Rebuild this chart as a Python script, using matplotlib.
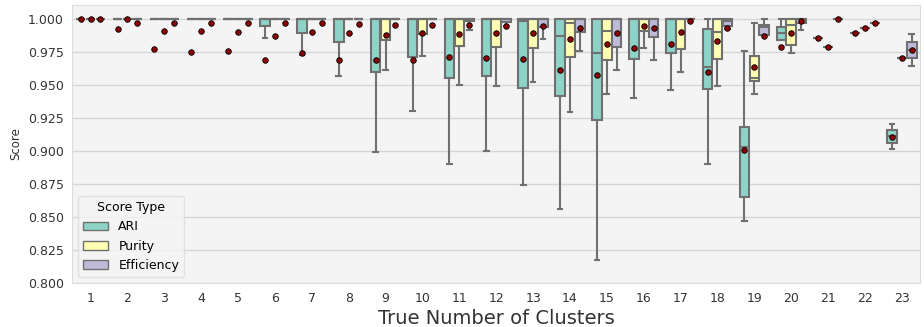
import matplotlib
matplotlib.use("Agg")
import matplotlib.pyplot as plt
from matplotlib.patches import Patch

clusters = list(range(1, 24))
score_types = ["ARI", "Purity", "Efficiency"]

# box statistics (one value per true number of clusters)
ari_q3 = [1, 1, 1, 1, 1, 1, 1, 1, 1, 1, 1, 1, 1, 1, 1, 1, 1, 0.9924, 0.9184, 0.9937, 0.9853, 0.9894, 0.916]
ari_med = [1, 1, 1, 1, 1, 1, 1, 1, 1, 1, 1, 1, 0.998, 0.987, 0.974, 1, 1, 0.9639, 0.9033, 0.9896, 0.9853, 0.9894, 0.911]
ari_q1 = [1, 1, 1, 1, 1, 0.9944, 0.9894, 0.9823, 0.960, 0.9712, 0.9553, 0.9565, 0.9477, 0.9414, 0.9237, 0.9697, 0.9745, 0.947, 0.865, 0.9843, 0.9853, 0.9894, 0.9058]
ari_lo = [1, 1, 1, 1, 1, 0.9856, 0.9727, 0.9565, 0.899, 0.930, 0.890, 0.900, 0.874, 0.856, 0.8177, 0.940, 0.946, 0.890, 0.847, 0.9843, 0.9853, 0.9894, 0.9012]
ari_hi = [1, 1, 1, 1, 1, 1, 1, 1, 1, 1, 1, 1, 1, 1, 1, 1, 1, 1, 0.9755, 1, 0.9853, 0.9894, 0.9205]
ari_mean = [1, 0.9924, 0.977, 0.975, 0.9757, 0.969, 0.9745, 0.969, 0.969, 0.969, 0.9712, 0.9707, 0.9697, 0.9616, 0.9573, 0.978, 0.9808, 0.960, 0.9007, 0.9785, 0.9853, 0.9894, 0.9108]

pur_q3 = [1, 1, 1, 1, 1, 1, 1, 1, 1, 1, 1, 1, 1, 1, 1, 1, 1, 1, 0.9717, 1, 0.979, 0.9934, 0.9705]
pur_med = [1, 1, 1, 1, 1, 1, 1, 1, 1, 1, 1, 1, 1, 0.9967, 0.9911, 1, 1, 0.990, 0.9553, 0.995, 0.979, 0.9934, 0.9705]
pur_q1 = [1, 1, 1, 1, 1, 1, 1, 1, 0.984, 0.9889, 0.9795, 0.979, 0.9777, 0.9712, 0.9692, 0.991, 0.9772, 0.970, 0.9533, 0.980, 0.979, 0.9934, 0.9705]
pur_lo = [1, 1, 1, 1, 1, 1, 1, 1, 0.961, 0.972, 0.950, 0.9492, 0.9525, 0.9298, 0.9434, 0.9777, 0.960, 0.949, 0.943, 0.974, 0.979, 0.9934, 0.9705]
pur_hi = [1, 1, 1, 1, 1, 1, 1, 1, 1, 1, 1, 1, 1, 1, 1, 1, 1, 1, 0.9972, 1, 0.979, 0.9934, 0.9705]
pur_mean = [1, 1, 0.991, 0.991, 0.990, 0.987, 0.990, 0.9894, 0.9876, 0.989, 0.9884, 0.9894, 0.989, 0.9848, 0.981, 0.9944, 0.990, 0.983, 0.9633, 0.9896, 0.979, 0.9934, 0.9705]

eff_q3 = [1, 1, 1, 1, 1, 1, 1, 1, 1, 1, 1, 1, 1, 1, 1, 1, 1, 1, 0.9957, 1, 1, 0.9972, 0.9828]
eff_med = [1, 1, 1, 1, 1, 1, 1, 1, 1, 1, 1, 1, 1, 1, 1, 1, 1, 0.998, 0.9937, 1, 1, 0.9972, 0.9765]
eff_q1 = [1, 1, 1, 1, 1, 1, 1, 1, 1, 1, 0.998, 0.9975, 0.9937, 0.9904, 0.9786, 0.986, 1, 0.9945, 0.9876, 0.9967, 1, 0.9972, 0.9705]
eff_lo = [1, 1, 1, 1, 1, 1, 1, 1, 1, 1, 0.9917, 0.9944, 0.9848, 0.976, 0.961, 0.969, 1, 0.9925, 0.9876, 0.9917, 1, 0.9972, 0.9641]
eff_hi = [1, 1, 1, 1, 1, 1, 1, 1, 1, 1, 1, 1, 1, 1, 1, 1, 1, 1, 1, 1, 1, 0.9972, 0.9889]
eff_mean = [1, 0.9967, 0.9965, 0.9965, 0.9965, 0.9965, 0.9965, 0.996, 0.995, 0.9955, 0.995, 0.9944, 0.9944, 0.9927, 0.9892, 0.993, 0.998, 0.9934, 0.9868, 0.998, 1.0, 0.9972, 0.9765]

stats_by_type = {
    "ARI": (ari_q1, ari_med, ari_q3, ari_lo, ari_hi, ari_mean),
    "Purity": (pur_q1, pur_med, pur_q3, pur_lo, pur_hi, pur_mean),
    "Efficiency": (eff_q1, eff_med, eff_q3, eff_lo, eff_hi, eff_mean),
}
colors = {"ARI": "#8dd3c7", "Purity": "#ffffb3", "Efficiency": "#bebada"}
edge = "#707070"

fig = plt.figure(figsize=(9.24, 3.27), dpi=100)
ax = fig.add_axes([0.078, 0.134, 0.918, 0.852])
ax.set_facecolor("#f4f4f4")
ax.grid(axis="y", color="#d6d6d6", linewidth=1)
ax.set_axisbelow(True)

offsets = [-0.267, 0, 0.267]
for k, name in enumerate(score_types):
    q1, med, q3, lo, hi, mean = stats_by_type[name]
    boxes = []
    for i in range(len(clusters)):
        boxes.append({"q1": q1[i], "med": med[i], "q3": q3[i],
                      "whislo": lo[i], "whishi": hi[i], "fliers": []})
    pos = [i + offsets[k] for i in range(len(clusters))]
    ax.bxp(boxes, positions=pos, widths=0.26, patch_artist=True, showfliers=False,
           boxprops=dict(facecolor=colors[name], edgecolor=edge, linewidth=1.5),
           medianprops=dict(color=edge, linewidth=1.5),
           whiskerprops=dict(color=edge, linewidth=1.5),
           capprops=dict(color=edge, linewidth=1.5), manage_ticks=False)
    # means drawn on top of the boxes
    ax.plot(pos, mean, linestyle="none", marker="o", markersize=4,
            markerfacecolor="#8b0000", markeredgecolor="black", markeredgewidth=0.6, zorder=5)

ax.set_xlim(-0.5, len(clusters) - 0.5)
ax.set_ylim(0.8, 1.0108)
ax.set_xticks(range(len(clusters)))
ax.set_xticklabels([str(c) for c in clusters])
ax.set_yticks([0.8, 0.825, 0.85, 0.875, 0.9, 0.925, 0.95, 0.975, 1.0])
ax.set_yticklabels(["%.3f" % v for v in ax.get_yticks()])
ax.tick_params(length=0, labelsize=9, colors="#333333", pad=6)
for s in ax.spines.values():
    s.set_color("#dddddd")

ax.set_xlabel("True Number of Clusters", fontsize=14, color="#333333", labelpad=3)
ax.set_ylabel("Score", fontsize=8.5, color="#333333")

handles = [Patch(facecolor=colors[n], edgecolor=edge, label=n) for n in score_types]
ax.legend(handles=handles, title="Score Type", loc="lower left", fontsize=9,
          title_fontsize=9, frameon=True, facecolor="#f4f4f4", edgecolor="#dddddd")

fig.savefig("out.png", dpi=100)
